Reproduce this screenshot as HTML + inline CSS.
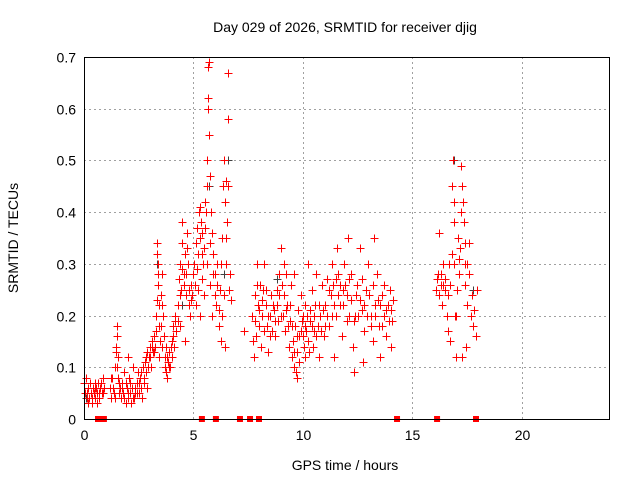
<!DOCTYPE html>
<html><head><meta charset="utf-8"><style>
body{margin:0;background:#fff}
svg{display:block;font-family:"Liberation Sans",sans-serif}
</style></head><body>
<svg id="chart" width="640" height="480" viewBox="0 0 640 480">
<rect width="640" height="480" fill="#fff"/>
<text x="345" y="32" font-size="14" text-anchor="middle">Day 029 of 2026, SRMTID for receiver djig</text>
<text x="18" y="238" font-size="14" text-anchor="middle" transform="rotate(-90 18 238)">SRMTID / TECUs</text>
<text x="345" y="470" font-size="14" text-anchor="middle">GPS time / hours</text>
<g id="grid"></g>
<g id="ticks"></g>
<g id="marks"></g>
<rect x="84.5" y="57.5" width="525" height="362" fill="none" stroke="#000" stroke-width="1"/>
</svg>
<script>
const xTicks = [0,5,10,15,20];
const yTicks = [0,0.1,0.2,0.3,0.4,0.5,0.6,0.7];
const yTickLabels = ["0","0.1","0.2","0.3","0.4","0.5","0.6","0.7"];
const redPoints = [
[0.05,.05],[0.1,.08],[0.12,.04],[0.2,.06],[0.25,.04],[0.3,.05],[0.35,.03],[0.4,.06],[0.45,.05],[0.5,.04],[0.55,.06],[0.6,.05],[0.65,.07],[0.7,.04],[0.75,.06],[0.8,.05],[0.85,.08],[0.9,.06],[0.2,.03],[0.5,.07],
[0.02,.07],[0.15,.05],[0.28,.07],[0.38,.04],[0.48,.06],[0.58,.03],[0.68,.05],[0.78,.07],[0.88,.05],
[1.2,.06],[1.25,.04],[1.3,.08],[1.35,.05],[1.4,.1],[1.45,.14],[1.5,.18],[1.5,.16],[1.55,.12],[1.55,.08],[1.6,.05],[1.7,.04],[1.75,.07],[1.8,.05],[1.9,.03],[1.95,.06],[2.0,.04],[2.05,.08],[2.1,.05],[2.15,.03],[2.2,.06],[2.3,.04],[2.35,.05],[2.4,.07],[1.85,.09],[2.25,.1],[2.0,.12],[1.65,.06],
[1.22,.08],[1.32,.06],[1.42,.04],[1.48,.13],[1.52,.1],[1.58,.07],[1.72,.06],[1.82,.04],[1.92,.07],[2.02,.05],[2.12,.07],[2.22,.04],[2.32,.06],[2.42,.05],[2.45,.09],
[2.5,.05],[2.55,.08],[2.6,.06],[2.7,.1],[2.75,.07],[2.8,.11],[2.85,.09],[2.9,.13],[2.95,.12],[3.0,.14],[3.05,.1],[3.1,.15],[3.15,.13],[3.2,.16],[3.25,.14],[2.65,.04],[2.9,.06],
[2.52,.07],[2.62,.09],[2.72,.08],[2.82,.12],[2.92,.1],[3.02,.12],[3.12,.14],[3.22,.13],[3.28,.17],
[3.3,.2],[3.35,.34],[3.35,.32],[3.4,.3],[3.4,.26],[3.45,.22],[3.5,.18],[3.5,.24],[3.55,.14],[3.6,.2],[3.45,.12],[3.55,.28],
[3.32,.23],[3.38,.28],[3.42,.18],[3.48,.15],[3.58,.22],[3.68,.1],[3.78,.12],[3.88,.1],[3.98,.14],[4.08,.16],[4.18,.19],
[3.65,.16],[3.7,.12],[3.75,.09],[3.8,.08],[3.85,.11],[3.9,.13],[3.95,.1],[4.0,.15],[4.05,.18],[4.1,.14],[4.15,.2],[4.2,.17],[3.75,.14],[4.0,.12],
[4.3,.22],[4.35,.27],[4.4,.3],[4.45,.25],[4.5,.34],[4.5,.38],[4.55,.28],[4.6,.32],[4.65,.24],[4.7,.36],[4.75,.3],[4.8,.22],[4.85,.2],[4.9,.26],[4.95,.24],[4.4,.18],[4.6,.15],
[4.28,.19],[4.38,.24],[4.48,.29],[4.58,.26],[4.68,.28],[4.78,.25],[4.88,.23],[4.98,.28],[4.72,.33],
[5.05,.3],[5.1,.34],[5.15,.37],[5.2,.32],[5.25,.4],[5.3,.41],[5.35,.38],[5.4,.36],[5.45,.3],[5.2,.25],[5.3,.2],[5.4,.27],[5.5,.33],[5.1,.22],
[5.08,.26],[5.18,.29],[5.28,.35],[5.38,.32],[5.48,.24],[5.58,.4],[5.68,.62],[5.78,.34],[5.88,.28],[5.98,.24],[6.08,.26],[6.18,.21],[6.28,.3],[6.38,.24],[6.48,.35],[6.58,.45],[6.68,.28],
[5.55,.42],[5.6,.45],[5.6,.5],[5.65,.6],[5.65,.68],[5.7,.69],[5.7,.55],[5.75,.47],[5.8,.4],[5.85,.36],[5.6,.3],[5.75,.26],[5.85,.2],[5.9,.32],[5.55,.37],
[6.0,.28],[6.05,.22],[6.1,.3],[6.15,.18],[6.2,.25],[6.25,.15],[6.3,.35],[6.35,.45],[6.4,.5],[6.45,.42],[6.5,.3],[6.55,.38],[6.6,.58],[6.6,.67],[6.65,.25],[6.7,.23],[6.3,.2],[6.45,.14],[6.5,.46],
[7.3,.17],
[7.7,.2],[7.75,.12],[7.8,.24],[7.85,.16],[7.9,.3],[7.95,.22],[8.0,.18],[8.05,.26],[8.1,.14],[8.15,.2],[8.2,.25],[8.3,.22],[8.35,.18],[8.4,.13],[8.5,.2],[8.55,.24],[8.6,.17],[8.7,.21],[8.8,.25],[8.85,.19],[8.9,.28],[9.0,.33],[9.05,.26],[9.1,.2],[9.15,.24],[9.2,.17],[9.3,.22],[9.35,.14],[9.4,.19],[9.45,.26],[8.25,.3],[8.75,.16],[9.25,.28],
[7.72,.15],[7.82,.19],[7.92,.26],[8.02,.21],[8.12,.23],[8.22,.17],[8.32,.25],[8.42,.2],[8.52,.16],[8.62,.22],[8.72,.19],[8.82,.22],[8.92,.24],[9.02,.2],[9.12,.3],[9.22,.21],[9.32,.18],[9.42,.22],
[9.5,.12],[9.55,.15],[9.6,.1],[9.65,.18],[9.7,.09],[9.75,.13],[9.8,.21],[9.85,.16],[9.9,.24],[9.95,.19],[10.0,.2],[10.05,.14],[10.1,.22],[10.15,.17],[10.2,.2],[10.3,.13],[10.35,.19],[10.4,.25],[10.5,.17],[10.55,.22],[10.6,.28],[10.7,.18],[10.75,.12],[10.8,.2],[10.9,.26],[10.95,.16],[9.6,.28],[10.25,.3],[9.75,.08],
[9.52,.18],[9.62,.13],[9.72,.16],[9.82,.11],[9.92,.17],[10.02,.16],[10.12,.18],[10.22,.15],[10.32,.21],[10.42,.18],[10.52,.2],[10.62,.16],[10.72,.22],[10.82,.17],[10.92,.21],[10.12,.12],[10.45,.14],
[11.0,.22],[11.1,.27],[11.2,.18],[11.3,.24],[11.35,.3],[11.4,.26],[11.5,.2],[11.55,.33],[11.6,.28],[11.7,.22],[11.8,.16],[11.85,.25],[11.9,.3],[12.0,.19],[12.1,.27],[12.2,.23],[12.3,.14],[12.35,.09],[12.4,.2],[12.5,.26],[12.6,.33],[12.7,.21],[12.8,.17],[12.9,.25],[13.0,.3],[13.1,.2],[13.2,.15],[13.3,.22],[13.4,.28],[13.5,.18],[13.6,.24],[13.7,.2],[13.8,.16],[13.9,.22],[14.0,.25],[14.1,.19],[12.05,.35],[11.45,.12],[12.75,.11],[13.25,.35],[13.55,.12],[14.05,.14],
[11.02,.18],[11.12,.2],[11.22,.25],[11.32,.2],[11.42,.22],[11.52,.27],[11.62,.24],[11.72,.26],[11.82,.22],[11.92,.26],[12.02,.24],[12.12,.2],[12.22,.28],[12.32,.19],[12.42,.24],[12.52,.2],[12.62,.23],[12.72,.27],[12.82,.22],[12.92,.2],[13.02,.24],[13.12,.18],[13.22,.26],[13.32,.2],[13.42,.23],[13.52,.22],[13.62,.18],[13.72,.26],[13.82,.21],[13.92,.19],[14.02,.21],[14.12,.23],
[16.1,.25],[16.2,.28],[16.25,.36],[16.3,.26],[16.35,.22],[16.4,.3],[16.5,.25],[16.6,.2],[16.7,.3],[16.75,.15],[16.8,.45],[16.85,.5],[16.9,.38],[16.95,.2],[17.0,.12],[17.05,.25],[17.1,.35],[17.15,.28],[17.2,.33],[17.25,.49],[17.3,.45],[17.35,.38],[17.4,.3],[17.45,.14],[17.5,.22],[17.6,.34],[17.7,.2],[17.8,.18],[17.9,.16],[17.95,.25],[16.9,.42],[17.4,.26],
[16.12,.27],[16.22,.24],[16.32,.28],[16.42,.26],[16.52,.27],[16.62,.24],[16.72,.26],[16.82,.32],[16.92,.3],[17.02,.2],[17.12,.31],[17.22,.4],[17.32,.42],[17.42,.34],[17.52,.3],[17.62,.28],[17.72,.24],[17.82,.21],[16.65,.17],[17.3,.12]
];
const grayPoints = [[0.1,.04],[4.5,.22],[5.7,.45],[6.6,.5],[8.8,.27],[17.8,.25],[16.9,.5],[3.35,.3],[6.4,.28]];
const zeroTimes = [0.64,0.91,5.39,6.03,7.13,7.59,8.0,14.31,16.14,17.92];

const X0=84, X1=609, Y0=419, Y1=57;
function xs(t){return X0+(t/24)*(X1-X0);}
function ys(v){return Y0-(v/0.7)*(Y0-Y1);}
const NS="http://www.w3.org/2000/svg";
const grid=document.getElementById('grid'), ticks=document.getElementById('ticks'), marks=document.getElementById('marks');
function mk(tag,attrs,parent){const e=document.createElementNS(NS,tag);for(const k in attrs)e.setAttribute(k,attrs[k]);parent.appendChild(e);return e;}
yTicks.forEach((v,i)=>{
  const y=Math.round(ys(v))+0.5;
  if(i>0&&i<yTicks.length-1){const g=mk('line',{x1:X0,x2:X1,y1:y,y2:y,stroke:'#a0a0a0','stroke-dasharray':'2,3'},grid);
  
  }
  const t=mk('text',{x:X0-8,y:y+5,'font-size':'14','text-anchor':'end'},ticks);
  t.textContent=yTickLabels[i];
  
  
});
xTicks.forEach((v,i)=>{
  const x=Math.round(xs(v))+0.5;
  if(i>0){const g=mk('line',{x1:x,x2:x,y1:Y0,y2:Y1,stroke:'#a0a0a0','stroke-dasharray':'2,3'},grid);
  
  }
  const t=mk('text',{x:x,y:Y0+21,'font-size':'14','text-anchor':'middle'},ticks);
  t.textContent=String(v);
  
  
});
function plus(t,v,color){
  const x=Math.round(xs(t))+0.5, y=Math.round(ys(v))+0.5;
  const p=mk('path',{d:`M${x-4} ${y}H${x+4}M${x} ${y-4}V${y+4}`,stroke:color,'stroke-width':'1',fill:'none'},marks);
  
  
}
grayPoints.forEach(p=>plus(p[0],p[1],'#404040'));
redPoints.forEach(p=>plus(p[0],p[1],'#ff0000'));
zeroTimes.forEach(t=>{
  const r=mk('rect',{x:xs(t)-3,y:Y0-3,width:6,height:6,fill:'#ff0000'},marks);
  
  
});
</script>
</body></html>
